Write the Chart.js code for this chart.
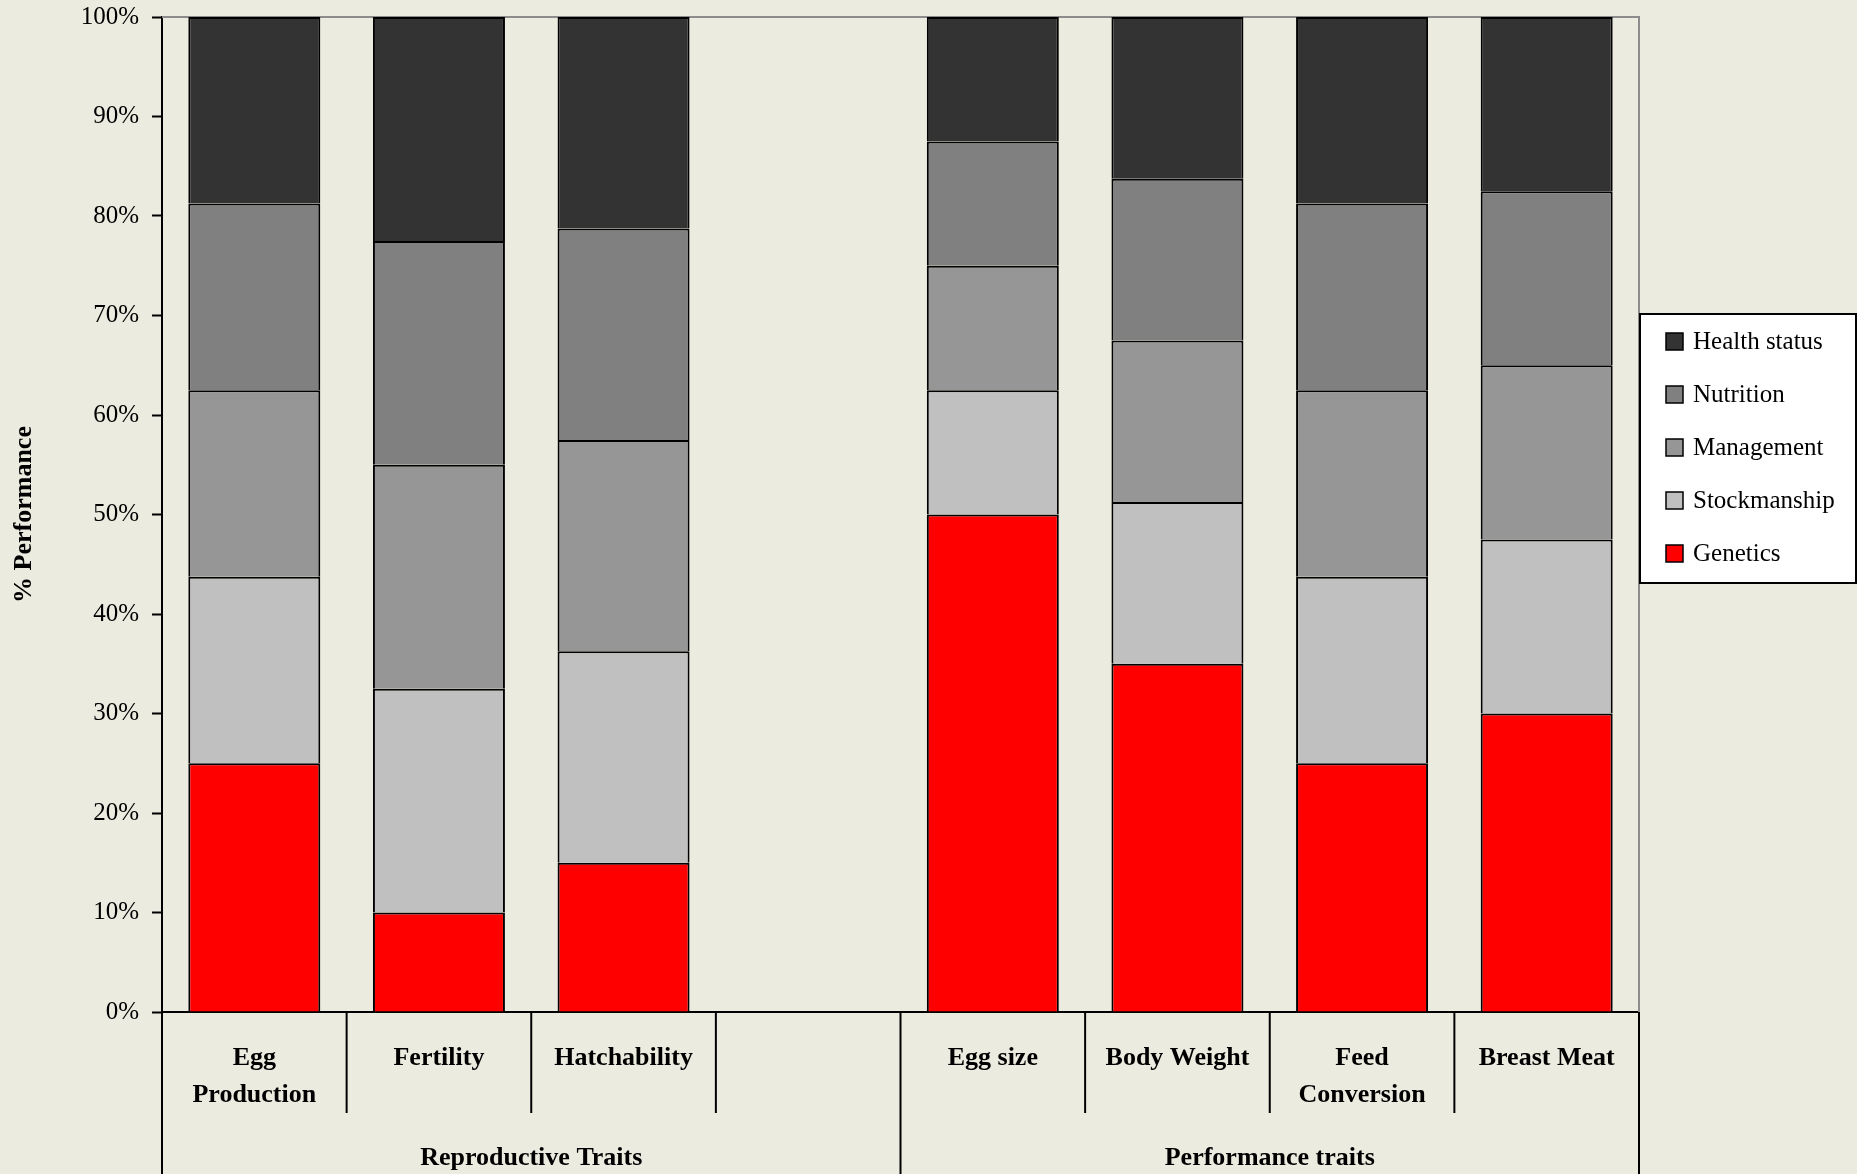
<!DOCTYPE html>
<html>
<head>
<meta charset="utf-8">
<title>% Performance by trait</title>
<script src="https://cdn.jsdelivr.net/npm/chart.js@4/dist/chart.umd.min.js"></script>
<style>
  html, body { margin: 0; padding: 0; background: #ECEBE0; }
  #wrap { width: 1857px; height: 1174px; position: relative; }
  canvas { display: block; }
</style>
</head>
<body>
<div id="wrap"><canvas id="chart" width="1857" height="1174"></canvas></div>
<script>
// Trait categories (the blank slot separates the two trait groups)
const categories = [['Egg', 'Production'], 'Fertility', 'Hatchability', '', 'Egg size', 'Body Weight', ['Feed', 'Conversion'], 'Breast Meat'];
const groupLabels = ['Reproductive Traits', 'Performance traits'];
const groupSizes = [4, 4];

// Share of performance (%) attributed to each factor
const genetics     = [25,    10,   15,    null, 50,   35,    25,    30];
const stockmanship = [18.75, 22.5, 21.25, null, 12.5, 16.25, 18.75, 17.5];
const management   = [18.75, 22.5, 21.25, null, 12.5, 16.25, 18.75, 17.5];
const nutrition    = [18.75, 22.5, 21.25, null, 12.5, 16.25, 18.75, 17.5];
const healthStatus = [18.75, 22.5, 21.25, null, 12.5, 16.25, 18.75, 17.5];

const yTicks = [0, 10, 20, 30, 40, 50, 60, 70, 80, 90, 100];

const SERIF = "'Liberation Serif', 'DejaVu Serif', serif";
const BG = '#ECEBE0';

// Plot frame (top/right), category dividers, group labels and the boxed legend
const decorations = {
  id: 'decorations',
  beforeDraw(chart) {
    const ctx = chart.ctx;
    ctx.save();
    ctx.fillStyle = BG;
    ctx.fillRect(0, 0, chart.width, chart.height);
    ctx.restore();
  },
  beforeDatasetsDraw(chart) {
    const { ctx, chartArea: a } = chart;
    ctx.save();
    ctx.strokeStyle = '#8C8C8C';
    ctx.lineWidth = 2;
    ctx.beginPath();
    ctx.moveTo(a.left, a.top);
    ctx.lineTo(a.right, a.top);
    ctx.lineTo(a.right, a.bottom);
    ctx.stroke();
    ctx.restore();
  },
  afterDraw(chart) {
    const { ctx, chartArea: a } = chart;
    const xs = chart.scales.x;
    const n = categories.length;
    const centers = categories.map((_, i) => xs.getPixelForValue(i));
    const half = (centers[1] - centers[0]) / 2;
    const bounds = [centers[0] - half];
    for (let i = 1; i < n; i++) bounds.push((centers[i - 1] + centers[i]) / 2);
    bounds.push(centers[n - 1] + half);

    const groupEdges = [0];
    groupSizes.forEach(s => groupEdges.push(groupEdges[groupEdges.length - 1] + s));

    ctx.save();
    ctx.strokeStyle = '#000';
    ctx.lineWidth = 2;
    bounds.forEach((bx, i) => {
      const isGroupEdge = groupEdges.includes(i);
      ctx.beginPath();
      ctx.moveTo(bx, a.bottom);
      ctx.lineTo(bx, isGroupEdge ? chart.height : a.bottom + 101);
      ctx.stroke();
    });

    // group labels
    ctx.fillStyle = '#000';
    ctx.font = 'bold 26px ' + SERIF;
    ctx.textAlign = 'center';
    ctx.textBaseline = 'middle';
    groupLabels.forEach((g, k) => {
      const x0 = bounds[groupEdges[k]];
      const x1 = bounds[groupEdges[k + 1]];
      ctx.fillText(g, (x0 + x1) / 2, a.bottom + 146);
    });

    // legend, top entry = top of the stack
    const lx = a.right + 1, ly = 314, lw = 216, lh = 269;
    ctx.fillStyle = '#FFFFFF';
    ctx.fillRect(lx, ly, lw, lh);
    ctx.strokeStyle = '#000';
    ctx.lineWidth = 2;
    ctx.strokeRect(lx, ly, lw, lh);
    const items = chart.data.datasets.slice().reverse();
    ctx.font = '25px ' + SERIF;
    ctx.textAlign = 'left';
    ctx.textBaseline = 'middle';
    items.forEach((ds, k) => {
      const cy = ly + 27.5 + k * 53;
      ctx.fillStyle = ds.backgroundColor;
      ctx.fillRect(lx + 26, cy - 8.5, 17, 17);
      ctx.lineWidth = 1.5;
      ctx.strokeRect(lx + 26, cy - 8.5, 17, 17);
      ctx.fillStyle = '#000';
      ctx.fillText(ds.label, lx + 53, cy + 1);
    });
    ctx.restore();
  }
};

const mk = (label, data, color) => ({
  label, data,
  backgroundColor: color,
  borderColor: '#000',
  borderWidth: 2,
  categoryPercentage: 1,
  barPercentage: 0.715
});

new Chart(document.getElementById('chart'), {
  type: 'bar',
  data: {
    labels: categories,
    datasets: [
      mk('Genetics', genetics, '#FF0000'),
      mk('Stockmanship', stockmanship, '#C0C0C0'),
      mk('Management', management, '#969696'),
      mk('Nutrition', nutrition, '#808080'),
      mk('Health status', healthStatus, '#333333')
    ]
  },
  options: {
    responsive: false,
    animation: false,
    layout: { padding: { top: 17, right: 218, left: 0, bottom: 0 } },
    plugins: {
      legend: { display: false },
      tooltip: { enabled: false }
    },
    scales: {
      x: {
        stacked: true,
        z: 1,
        grid: { display: true, drawOnChartArea: false, drawTicks: false, offset: true },
        border: { display: true, color: '#000', width: 2 },
        ticks: {
          autoSkip: false,
          maxRotation: 0,
          minRotation: 0,
          color: '#000',
          padding: 28,
          font: { family: SERIF, size: 26, weight: 'bold', lineHeight: 1.42 }
        },
        afterFit(scale) {
          scale.height = 162;
          scale.paddingLeft = 0;
          scale.paddingRight = 0;
        }
      },
      y: {
        stacked: true,
        min: 0,
        max: 100,
        afterBuildTicks(scale) { scale.ticks = yTicks.map(v => ({ value: v })); },
        grid: { drawOnChartArea: false, drawTicks: true, tickLength: 10, tickColor: '#000', tickWidth: 2 },
        border: { display: true, color: '#000', width: 2 },
        ticks: {
          color: '#000',
          padding: 13,
          font: { family: SERIF, size: 25 },
          callback: v => v + '%'
        },
        title: {
          display: true,
          text: '% Performance',
          color: '#000',
          padding: { top: 9, bottom: 0 },
          font: { family: SERIF, size: 26, weight: 'bold' }
        },
        afterFit(scale) {
          scale.width = 162;
          scale.paddingTop = 0;
          scale.paddingBottom = 0;
        }
      }
    }
  },
  plugins: [decorations]
});
</script>
</body>
</html>
